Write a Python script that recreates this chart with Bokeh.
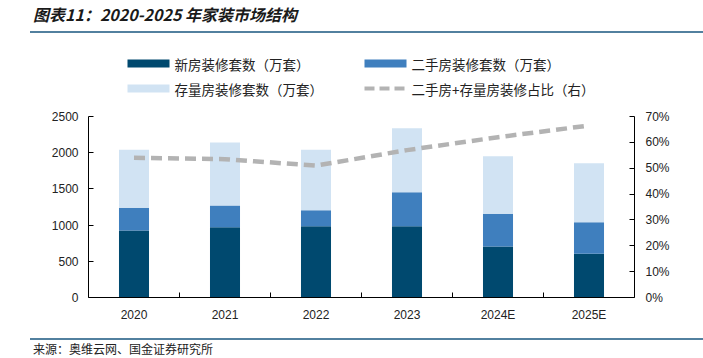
from bokeh.plotting import figure
from bokeh.models import (Range1d, LinearAxis, FixedTicker, NumeralTickFormatter,
                          Label, BoxAnnotation, ColumnDataSource, Div)
from bokeh.layouts import column
from bokeh.embed import file_html
from bokeh.resources import INLINE

# ---- data ----
years = ["2020", "2021", "2022", "2023", "2024E", "2025E"]
new_units = [925, 971, 985, 985, 704, 603]          # 新房装修套数（万套）
second_units = [314, 300, 221, 470, 452, 437]       # 二手房装修套数（万套）
stock_units = [801, 870, 834, 884, 796, 815]        # 存量房装修套数（万套）
share = [0.540, 0.535, 0.510, 0.570, 0.620, 0.665]  # 二手房+存量房装修占比（右）

left_ticks = [0, 500, 1000, 1500, 2000, 2500]
right_ticks = [0, 0.1, 0.2, 0.3, 0.4, 0.5, 0.6, 0.7]
left_max = 2500
right_max = 0.7

C_NEW = "#00496f"
C_SEC = "#3f7fbe"
C_STK = "#d1e3f3"
C_LINE = "#b3b3b3"
C_RULE = "#52809f"

CJK = "Noto Sans CJK SC"
TICK_FONT = "Liberation Sans"

# page geometry (pixels)
TITLE_H = 33
FIG_H = 305
FOOT_H = 358 - TITLE_H - FIG_H
FRAME_TOP, FRAME_BOTTOM = 40, 297        # page y of frame edges
AXIS_TOP = 116                           # page y of the 2500 / 70% ticks
FRAME_LEFT, FRAME_RIGHT = 88, 634

ext = (FRAME_BOTTOM - FRAME_TOP) / (FRAME_BOTTOM - AXIS_TOP)

xs = [i + 0.5 for i in range(len(years))]
src = ColumnDataSource(dict(x=xs, new=new_units, sec=second_units, stk=stock_units, share=share))

p = figure(width=703, height=FIG_H, output_backend="svg", toolbar_location=None,
           x_range=Range1d(0, len(years)), y_range=Range1d(0, left_max * ext),
           min_border_left=FRAME_LEFT, min_border_right=703 - FRAME_RIGHT,
           min_border_top=FRAME_TOP - TITLE_H,
           min_border_bottom=TITLE_H + FIG_H - FRAME_BOTTOM, margin=(0, 0, 0, 0))
p.outline_line_color = None
p.xgrid.visible = False
p.ygrid.visible = False
p.background_fill_color = "white"
p.border_fill_color = "white"

p.vbar_stack(["new", "sec", "stk"], x="x", width=0.33, source=src,
             color=[C_NEW, C_SEC, C_STK], line_color=None)

p.extra_y_ranges = {"pct": Range1d(0, right_max * ext)}
p.line(x="x", y="share", source=src, y_range_name="pct",
       line_color=C_LINE, line_width=4.5, line_dash="11 6")

# x axis
xa = p.xaxis[0]
xa.ticker = FixedTicker(ticks=xs, minor_ticks=list(range(1, len(years))))
xa.major_label_overrides = {x: y for x, y in zip(xs, years)}
xa.major_tick_in = 0
xa.major_tick_out = 0
xa.minor_tick_in = 5
xa.minor_tick_out = 0
xa.axis_line_color = "black"
xa.major_label_text_font = TICK_FONT
xa.major_label_text_font_size = "12px"
xa.major_label_text_color = "#222222"
xa.major_label_standoff = 10

ya = p.yaxis[0]
ya.ticker = FixedTicker(ticks=left_ticks)
ya.bounds = (0, left_max)
ya.major_tick_in = 5
ya.major_tick_out = 0
ya.minor_tick_line_color = None
ya.axis_line_color = "black"
ya.major_label_text_font = TICK_FONT
ya.major_label_text_font_size = "12px"
ya.major_label_text_color = "#222222"
ya.major_label_standoff = 10

ra = LinearAxis(y_range_name="pct", ticker=FixedTicker(ticks=right_ticks),
                formatter=NumeralTickFormatter(format="0%"), bounds=(0, right_max))
ra.major_tick_in = 5
ra.major_tick_out = 0
ra.minor_tick_line_color = None
ra.axis_line_color = "black"
ra.major_label_text_font = TICK_FONT
ra.major_label_text_font_size = "12px"
ra.major_label_text_color = "#222222"
ra.major_label_standoff = 11
p.add_layout(ra, "right")

# frame-relative screen coordinates
def fx(X):
    return X - FRAME_LEFT

def fy(Y):
    return FRAME_BOTTOM - Y

def box(l, r, t, b, col):
    return BoxAnnotation(left=fx(l), right=fx(r), top=fy(t), bottom=fy(b),
                         left_units="screen", right_units="screen",
                         top_units="screen", bottom_units="screen",
                         fill_color=col, fill_alpha=1, line_color=None)

# legend
leg = [
    (127, 63, "bar", C_NEW, "新房装修套数（万套）"),
    (364, 63, "bar", C_SEC, "二手房装修套数（万套）"),
    (127, 88, "bar", C_STK, "存量房装修套数（万套）"),
    (364, 88, "line", C_LINE, "二手房+存量房装修占比（右）"),
]
for X, Y, kind, col, lab in leg:
    if kind == "bar":
        p.add_layout(box(X, X + 42, Y - 4, Y + 4, col))
    else:
        for k in range(3):
            p.add_layout(box(X + k * 15, X + k * 15 + 10, Y - 2, Y + 2, col))
    p.add_layout(Label(x=fx(X + 47), y=fy(Y), x_units="screen", y_units="screen",
                       text=lab, text_font=CJK, text_font_size="13.5px",
                       text_color="#222222", text_baseline="middle"))

title = Div(text=("<div style=\"font-family:'Noto Sans CJK SC'; font-size:16px; font-weight:bold;"
                  "font-style:italic; color:#1a1a1a; padding-left:3px; line-height:29px;"
                  "white-space:nowrap\">图表11：2020-2025 年家装市场结构</div>"),
            width=673, height=TITLE_H, margin=(0, 0, 0, 30),
            styles={"border-bottom": "2px solid " + C_RULE, "box-sizing": "border-box",
                    "overflow": "hidden"})
footer = Div(text=("<div style=\"font-family:'Noto Sans CJK SC'; font-size:12px;"
                   "color:#222222; padding-left:3px; padding-top:0px; line-height:17px;"
                   "white-space:nowrap\">来源：奥维云网、国金证券研究所</div>"),
             width=673, height=FOOT_H, margin=(0, 0, 0, 30),
             styles={"border-top": "2px solid " + C_RULE, "box-sizing": "border-box",
                     "overflow": "hidden"})

layout = column(title, p, footer, spacing=0, margin=(0, 0, 0, 0))
open("out.html", "w").write(file_html(layout, INLINE))
